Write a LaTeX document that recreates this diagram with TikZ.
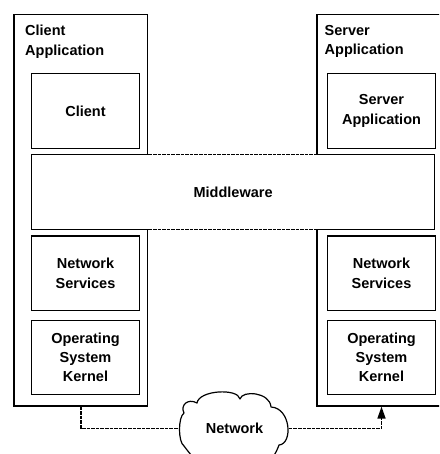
\documentclass[tikz,border=0pt]{standalone}
\usepackage{fontspec}
\setmainfont{Liberation Sans}
\usetikzlibrary{arrows.meta}
\begin{document}
\begin{tikzpicture}[x=1pt,y=-1pt,
  lbl/.style={font=\bfseries\fontsize{14.5}{19.3}\selectfont, align=center},
  edge/.style={line width=1.2pt},
  box/.style={draw, edge, fill=white, inner sep=0pt, lbl},
  inner/.style={box, minimum width=107.5pt, minimum height=74.6pt},
  link/.style={line width=1.6pt, dash pattern=on 3.6pt off 1pt}]
\useasboundingbox (0,0) rectangle (439,454);
\clip (0,0) rectangle (439,454);

% host frames
\node[box, minimum width=133.7pt, minimum height=391.7pt] (cout) at (80.85,210.15) {};
\node[box, minimum width=153pt, minimum height=391.7pt] (sout) at (393.5,210.15) {};
\node[lbl, anchor=north west, inner sep=0pt, align=left] (clab) at (25,25) {Client\\Application};
\node[lbl, anchor=north west, inner sep=0pt, align=left] (slab) at (324.5,25) {Server\\Application};

% middleware band spanning both hosts
\node[fill=white, inner sep=0pt, lbl, minimum width=402.8pt, minimum height=74.6pt] (mw) at (233.1,192) {Middleware};
\draw[edge] (cout.east |- mw.north) -- (mw.north west) -- (mw.south west) -- (cout.east |- mw.south);
\draw[edge] (sout.west |- mw.north) -- (mw.north east) -- (mw.south east) -- (sout.west |- mw.south);
\draw[link] (cout.east |- mw.north) -- (sout.west |- mw.north);
\draw[link] (cout.east |- mw.south) -- (sout.west |- mw.south);

% client stack
\node[inner] (capp) at (85.5,111) {Client};
\node[inner] (cns) at (85.5,273.35) {Network\\Services};
\node[inner] (cos) at (85.5,357.5) {Operating\\System\\Kernel};

% server stack
\node[inner] (sapp) at (381.5,111) {Server\\Application};
\node[inner] (sns) at (381.5,273.35) {Network\\Services};
\node[inner] (sos) at (381.5,357.5) {Operating\\System\\Kernel};

% network cloud outline
\draw[edge, line join=round]
  (184,413) .. controls (180,405) and (188,398) .. (197,403)
  .. controls (199,390) and (238,388) .. (240,399)
  .. controls (242,390) and (270,392) .. (271,407)
  .. controls (291,408) and (293,444) .. (279,445)
  .. controls (273,462) and (258,478) .. (234,478)
  .. controls (212,480) and (196,462) .. (184,446)
  .. controls (178,442) and (178,417) .. (184,413) -- cycle;
\node[lbl, inner sep=0pt, minimum width=108pt] (net) at (234.5,428.5) {Network};

% links through the network
\draw[link] (cout.south) |- (net.west);
\draw[link, -{Triangle[length=12pt, width=8pt]}] (net.east) -| (sos.south |- sout.south);
\end{tikzpicture}
\end{document}
